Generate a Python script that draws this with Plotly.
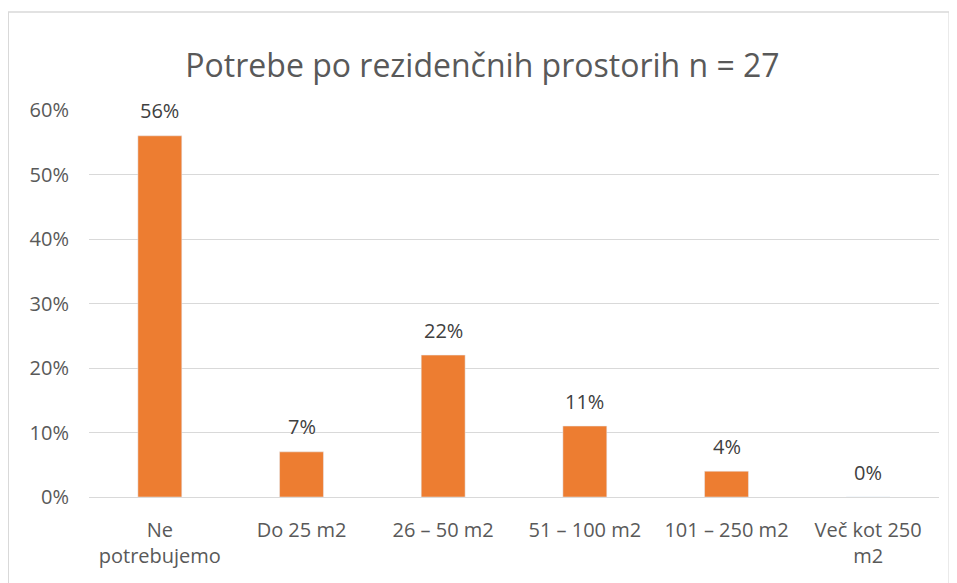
import plotly.graph_objects as go

# Chart data
categories = ['Ne<br>potrebujemo', 'Do 25 m2', '26 – 50 m2', '51 – 100 m2',
              '101 – 250 m2', 'Več kot 250<br>m2']
shares = [0.56, 0.07, 0.22, 0.11, 0.04, 0.0]
share_labels = ['56%', '7%', '22%', '11%', '4%', '0%']

font_name = 'Open Sans, sans-serif'
bar_color = '#ED7D31'

data = [go.Bar(x=categories, y=shares, marker_color=bar_color,
               width=0.31, hoverinfo='skip')]

# value labels above each bar
label_notes = []
for cat, val, txt in zip(categories, shares, share_labels):
    label_notes.append(dict(x=cat, y=val, text=txt, showarrow=False,
                            yshift=25, font=dict(size=20, color='#404040')))

x_axis_config = {'showgrid': False, 'showline': True, 'linecolor': '#D9D9D9',
                 'linewidth': 1, 'tickfont': {'size': 20, 'color': '#595959'},
                 'ticklabelstandoff': 15}
y_axis_config = {'range': [0, 0.6], 'dtick': 0.1, 'tickformat': '.0%',
                 'gridcolor': '#D9D9D9', 'gridwidth': 1, 'zeroline': False,
                 'tickfont': {'size': 20, 'color': '#595959'},
                 'ticklabelstandoff': 19}

# page body has an 8px margin, so the figure is 8px smaller than the window
my_layout = go.Layout(
    title={'text': 'Potrebe po rezidenčnih prostorih n = 27',
           'x': 0.5, 'xanchor': 'center', 'y': 0.9, 'yanchor': 'middle',
           'font': {'size': 32, 'color': '#595959'}},
    font={'family': font_name},
    xaxis=x_axis_config, yaxis=y_axis_config,
    width=949, height=575, margin=dict(l=81, r=18, t=102, b=86),
    plot_bgcolor='white', paper_bgcolor='white', showlegend=False,
    annotations=label_notes,
    # thin border around the chart area
    shapes=[dict(type='rect', xref='paper', yref='paper',
                 x0=-0.095, x1=1.012, y0=-0.25, y1=1.253,
                 line=dict(color='#D9D9D9', width=1.5), layer='below')],
)

fig = go.Figure(data, my_layout)
fig.write_html('out.html')
